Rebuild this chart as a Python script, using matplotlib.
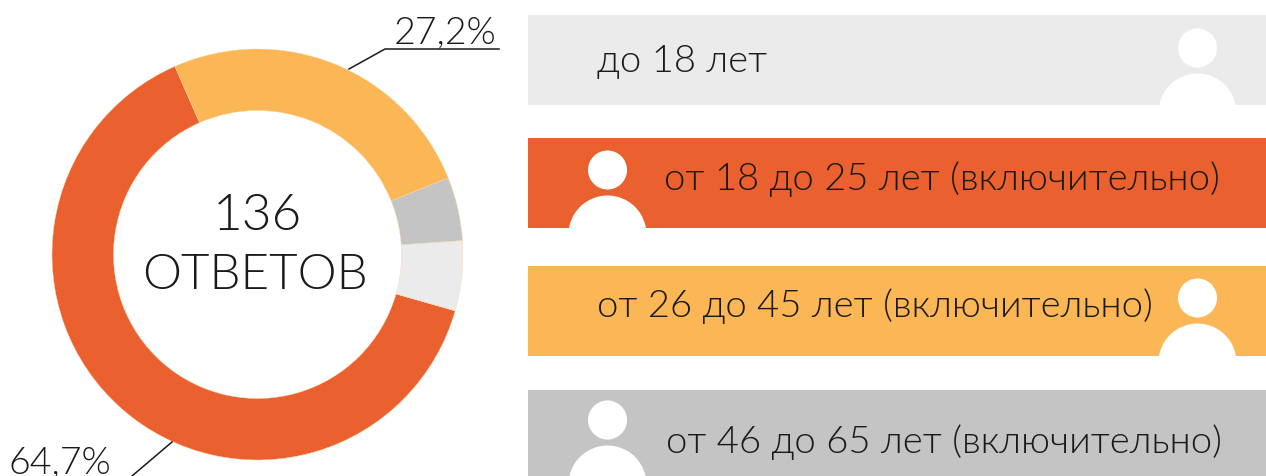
import matplotlib
matplotlib.use('Agg')
import matplotlib.pyplot as plt
from matplotlib import font_manager
from matplotlib.patches import Circle, Rectangle

shares = [64.0, 5.5, 5.0, 25.5]
ring_colors = ['#EB602F', '#EBEBEB', '#C4C4C4', '#FBB656']

bar_labels = ['до 18 лет', 'от 18 до 25 лет (включительно)',
              'от 26 до 45 лет (включительно)', 'от 46 до 65 лет (включительно)']
bar_colors = ['#EBEBEB', '#EB602F', '#FBB656', '#C4C4C4']
bar_tops = [15.5, 138.5, 266.5, 390.5]
bar_bottoms = [106, 229, 357, 480]
text_x = [597, 664, 597, 666]
text_y = [62, 179, 306, 442]
icon_x = [1197.5, 607.5, 1197.5, 607.5]
head_y = [49, 171, 299, 421]
body_y = [113.5, 235.5, 363.5, 485.5]

# 'light' picks the hairline cut of Lato, so look for the real light file
light_files = [f.fname for f in font_manager.fontManager.ttflist
               if f.name == 'Lato' and f.fname.endswith('Lato-Light.ttf')]
if light_files:
    def font(size):
        return font_manager.FontProperties(fname=light_files[0], size=size)
else:
    def font(size):
        return font_manager.FontProperties(family=['Lato', 'DejaVu Sans'], size=size)

fig = plt.figure(figsize=(12.66, 4.77), dpi=100)
ax = fig.add_axes([0, 0, 1, 1])

wedges, _ = ax.pie(shares, colors=ring_colors, center=(257.5, 255.5), radius=205.5,
                   startangle=-113.7, counterclock=False, frame=False,
                   wedgeprops=dict(width=61.5, edgecolor='#FBD9A8', linewidth=0.3))
ax.set_xlim(0, 1266)
ax.set_ylim(477, 0)
ax.set_aspect('equal')
ax.axis('off')

ax.text(257, 216, '136', fontproperties=font(37), color='#1A1A1A', ha='center', va='center')
ax.text(255, 276, 'ОТВЕТОВ', fontproperties=font(35.5), color='#1A1A1A', ha='center', va='center')

# leader lines
ax.plot([349, 385, 499], [70, 50, 50], color='#1A1A1A', lw=1.1)
ax.plot([172, 132], [443, 477], color='#1A1A1A', lw=1.1)
ax.text(445, 33, '27,2%', fontproperties=font(27), color='#1A1A1A', ha='center', va='center')
ax.text(60, 463, '64,7%', fontproperties=font(27), color='#1A1A1A', ha='center', va='center')

for i, label in enumerate(bar_labels):
    rect = Rectangle((527.5, bar_tops[i]), 738.5, bar_bottoms[i] - bar_tops[i],
                     facecolor=bar_colors[i], edgecolor='none')
    ax.add_patch(rect)
    ax.add_patch(Circle((icon_x[i], head_y[i]), 19.5, facecolor='white', edgecolor='none'))
    body = Circle((icon_x[i], body_y[i]), 39, facecolor='white', edgecolor='none')
    ax.add_patch(body)
    body.set_clip_path(rect)
    ax.text(text_x[i], text_y[i], label, fontproperties=font(27.5), color='#1A1A1A',
            ha='left', va='center')

fig.savefig('out.png', dpi=100)
